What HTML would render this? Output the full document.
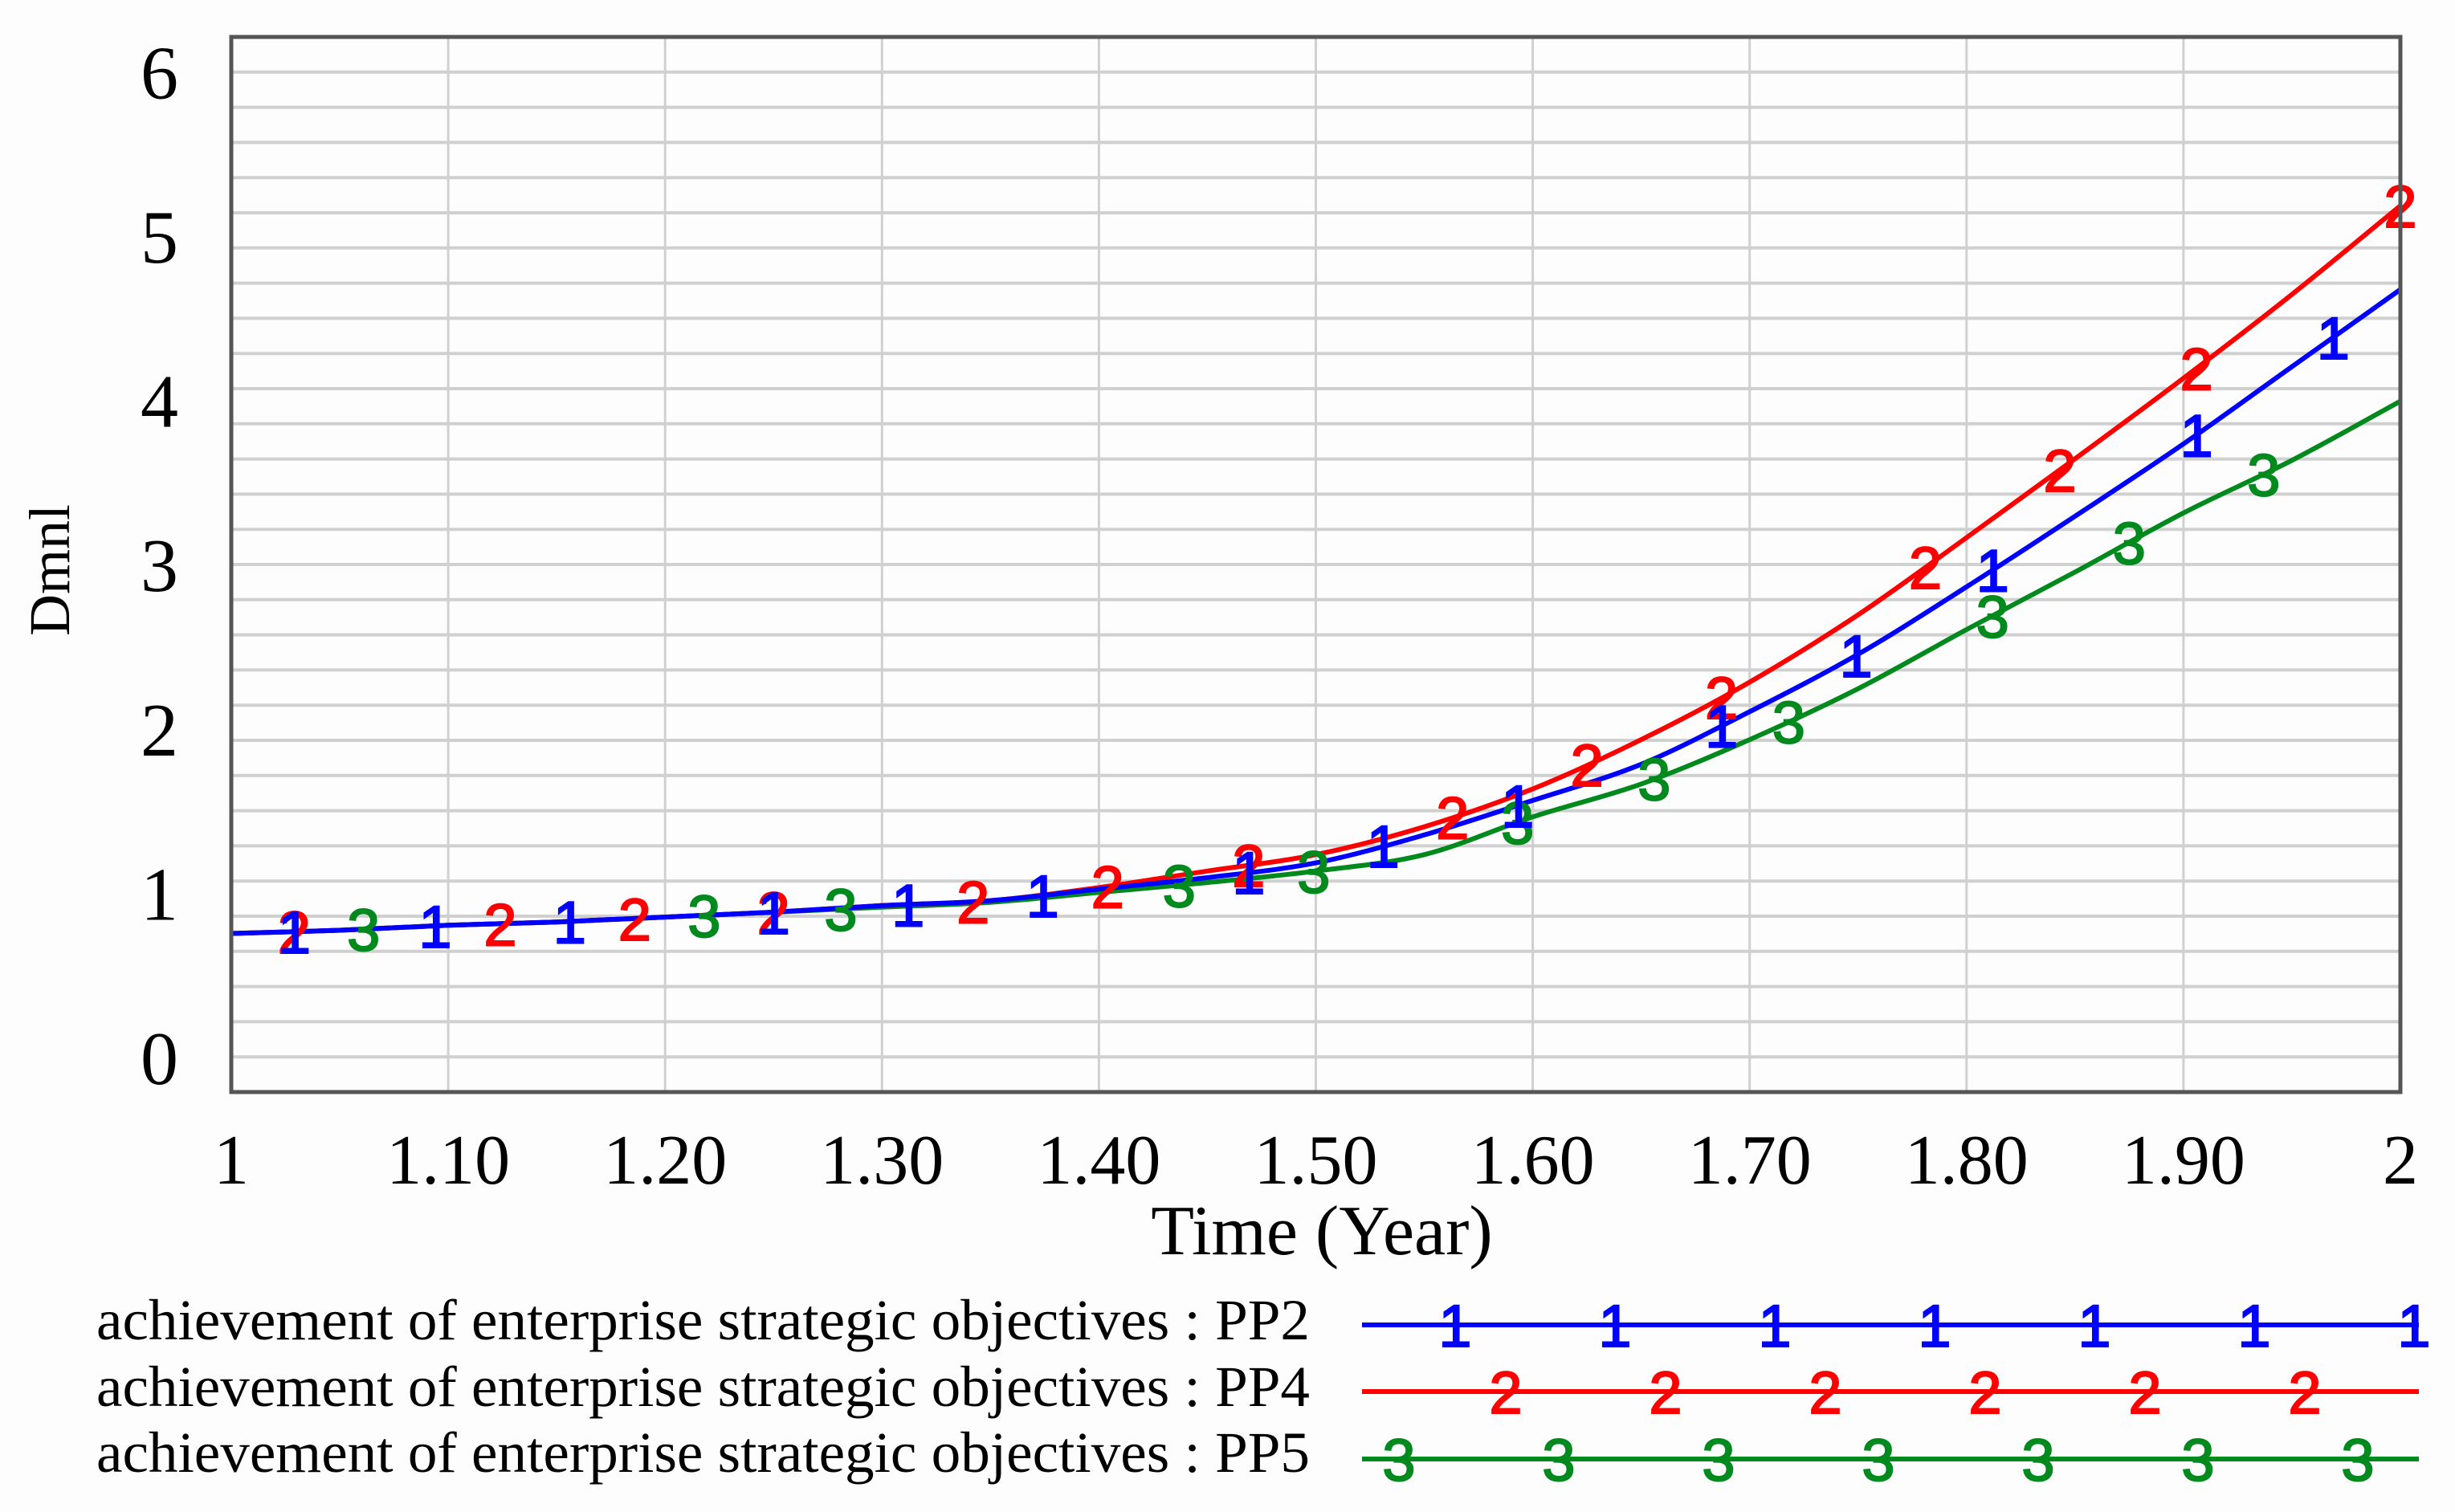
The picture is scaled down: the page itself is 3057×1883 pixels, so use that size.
<!DOCTYPE html>
<html><head><meta charset="utf-8"><style>
html,body{margin:0;padding:0;background:#fdfdfd;}
svg{display:block;}
</style></head><body>
<svg id="chart" xmlns="http://www.w3.org/2000/svg" width="3057" height="1883" viewBox="0 0 3057 1883">
<rect x="0" y="0" width="3057" height="1883" fill="#fdfdfd"/>
<g id="grid"></g>
<g id="series"></g>
<rect x="288" y="46" width="2701" height="1314" fill="none" stroke="#555" stroke-width="5"/>
<g id="axes"></g>
<text x="1646" y="1562" font-family="Liberation Serif, serif" font-size="88" text-anchor="middle" fill="#000">Time (Year)</text>
<text transform="translate(86,710) rotate(-90)" font-family="Liberation Serif, serif" font-size="72" text-anchor="middle" fill="#000">Dmnl</text>
<g id="legend"></g>
</svg>
<script>
const times = [1.00,1.05,1.10,1.15,1.20,1.25,1.30,1.35,1.40,1.45,1.50,1.55,1.60,1.65,1.70,1.75,1.80,1.85,1.90,1.95,2.00];
const pp2 = [0.75,0.77,0.80,0.82,0.85,0.88,0.92,0.95,1.02,1.09,1.18,1.35,1.56,1.78,2.10,2.45,2.86,3.29,3.73,4.20,4.67];
const pp4 = [0.75,0.77,0.80,0.82,0.85,0.88,0.92,0.95,1.03,1.13,1.23,1.40,1.63,1.93,2.28,2.69,3.16,3.64,4.13,4.64,5.18];
const pp5 = [0.75,0.77,0.80,0.82,0.85,0.88,0.91,0.94,1.00,1.06,1.13,1.23,1.46,1.66,1.93,2.24,2.60,2.95,3.31,3.63,3.99];
const marks2 = [1.029,1.094,1.156,1.250,1.312,1.374,1.469,1.531,1.593,1.687,1.749,1.812,1.906,1.969];
const marks4 = [1.029,1.124,1.186,1.250,1.342,1.404,1.469,1.563,1.625,1.687,1.781,1.843,1.906,2.0];
const marks5 = [1.061,1.218,1.281,1.437,1.499,1.593,1.656,1.718,1.812,1.875,1.937];
const xTicks = [1,1.1,1.2,1.3,1.4,1.5,1.6,1.7,1.8,1.9,2];
const xTickLabels = ["1","1.10","1.20","1.30","1.40","1.50","1.60","1.70","1.80","1.90","2"];
const yTicks = [0,1,2,3,4,5,6];
const seriesNames = ["achievement of enterprise strategic objectives : PP2","achievement of enterprise strategic objectives : PP4","achievement of enterprise strategic objectives : PP5"];

const NS="http://www.w3.org/2000/svg";
const L=288,R=2989,T=46,B=1360;
function xs(t){return L+(t-1)*(R-L);}
function ys(v){return 1316-v*204.6;}
function mk(tag,attrs,parent){const e=document.createElementNS(NS,tag);for(const k in attrs)e.setAttribute(k,attrs[k]);parent.appendChild(e);return e;}
function interp(arr,t){for(let i=0;i<times.length-1;i++){if(t<=times[i+1]){const f=(t-times[i])/(times[i+1]-times[i]);return arr[i]+f*(arr[i+1]-arr[i]);}}return arr[arr.length-1];}
function smoothPath(arr){
 const P=times.map((t,i)=>[xs(t),ys(arr[i])]);
 let d='M'+P[0][0].toFixed(1)+','+P[0][1].toFixed(1);
 for(let i=0;i<P.length-1;i++){
  const p0=P[Math.max(i-1,0)],p1=P[i],p2=P[i+1],p3=P[Math.min(i+2,P.length-1)];
  const c1=[p1[0]+(p2[0]-p0[0])/6,p1[1]+(p2[1]-p0[1])/6];
  const c2=[p2[0]-(p3[0]-p1[0])/6,p2[1]-(p3[1]-p1[1])/6];
  d+=' C'+c1[0].toFixed(1)+','+c1[1].toFixed(1)+' '+c2[0].toFixed(1)+','+c2[1].toFixed(1)+' '+p2[0].toFixed(1)+','+p2[1].toFixed(1);
 }
 return d;
}

const grid=document.getElementById('grid');
for(let i=1;i<30;i++){const y=T+i*(B-T)/30;
 const l=mk('line',{x1:L,x2:R,y1:y,y2:y,stroke:'#d0d0d0','stroke-width':4},grid);
 
 }
xTicks.forEach((t,i)=>{if(i>0&&i<xTicks.length-1){
 const l=mk('line',{x1:xs(t),x2:xs(t),y1:T,y2:B,stroke:'#d0d0d0','stroke-width':3},grid);
 
 }});

const axes=document.getElementById('axes');
xTicks.forEach((t,i)=>{const tx=mk('text',{x:xs(t),y:1474,'font-family':'Liberation Serif, serif','font-size':88,'text-anchor':'middle',fill:'#000'},axes);tx.textContent=xTickLabels[i];
 
 });
yTicks.forEach(v=>{const tx=mk('text',{x:222,y:ys(v)+34,'font-family':'Liberation Serif, serif','font-size':94,'text-anchor':'end',fill:'#000'},axes);tx.textContent=String(v);
 
 });

const sg=document.getElementById('series');
const defs=[{d:pp2,m:marks2,c:'#0000ff',lab:'1',n:'pp2'},{d:pp4,m:marks4,c:'#ff0000',lab:'2',n:'pp4'},{d:pp5,m:marks5,c:'#008a1e',lab:'3',n:'pp5'}];
const order=[2,1,0];
order.forEach(k=>{const s=defs[k];
 const pl=mk('path',{d:smoothPath(s.d),fill:'none',stroke:s.c,'stroke-width':6,'stroke-linejoin':'round'},sg);
 
 });
order.forEach(k=>{const s=defs[k];
 s.m.forEach(t=>{const tx=mk('text',{x:xs(t),y:ys(interp(s.d,t))+27,'font-family':'Liberation Sans, sans-serif','font-size':74,'text-anchor':'middle',fill:s.c,stroke:s.c,'stroke-width':2},sg);tx.textContent=s.lab;
  
  });});

const lg=document.getElementById('legend');
const lineY=[1650,1733,1817], textY=[1668,1751,1833], mStart=[1812,1875,1742], mCount=[7,6,7];
defs.forEach((s,k)=>{
 const tx=mk('text',{x:120,y:textY[k],'font-family':'Liberation Serif, serif','font-size':72,fill:'#000',textLength:1511,lengthAdjust:'spacingAndGlyphs'},lg);tx.textContent=seriesNames[k];
 
 
 const ln=mk('line',{x1:1696,x2:3012,y1:lineY[k],y2:lineY[k],stroke:s.c,'stroke-width':6},lg);
 
 
 for(let i=0;i<mCount[k];i++){const m=mk('text',{x:mStart[k]+i*199,y:lineY[k]+27,'font-family':'Liberation Sans, sans-serif','font-size':74,'text-anchor':'middle',fill:s.c,stroke:s.c,'stroke-width':2},lg);m.textContent=s.lab;
  
  }
});
</script>
</body></html>
